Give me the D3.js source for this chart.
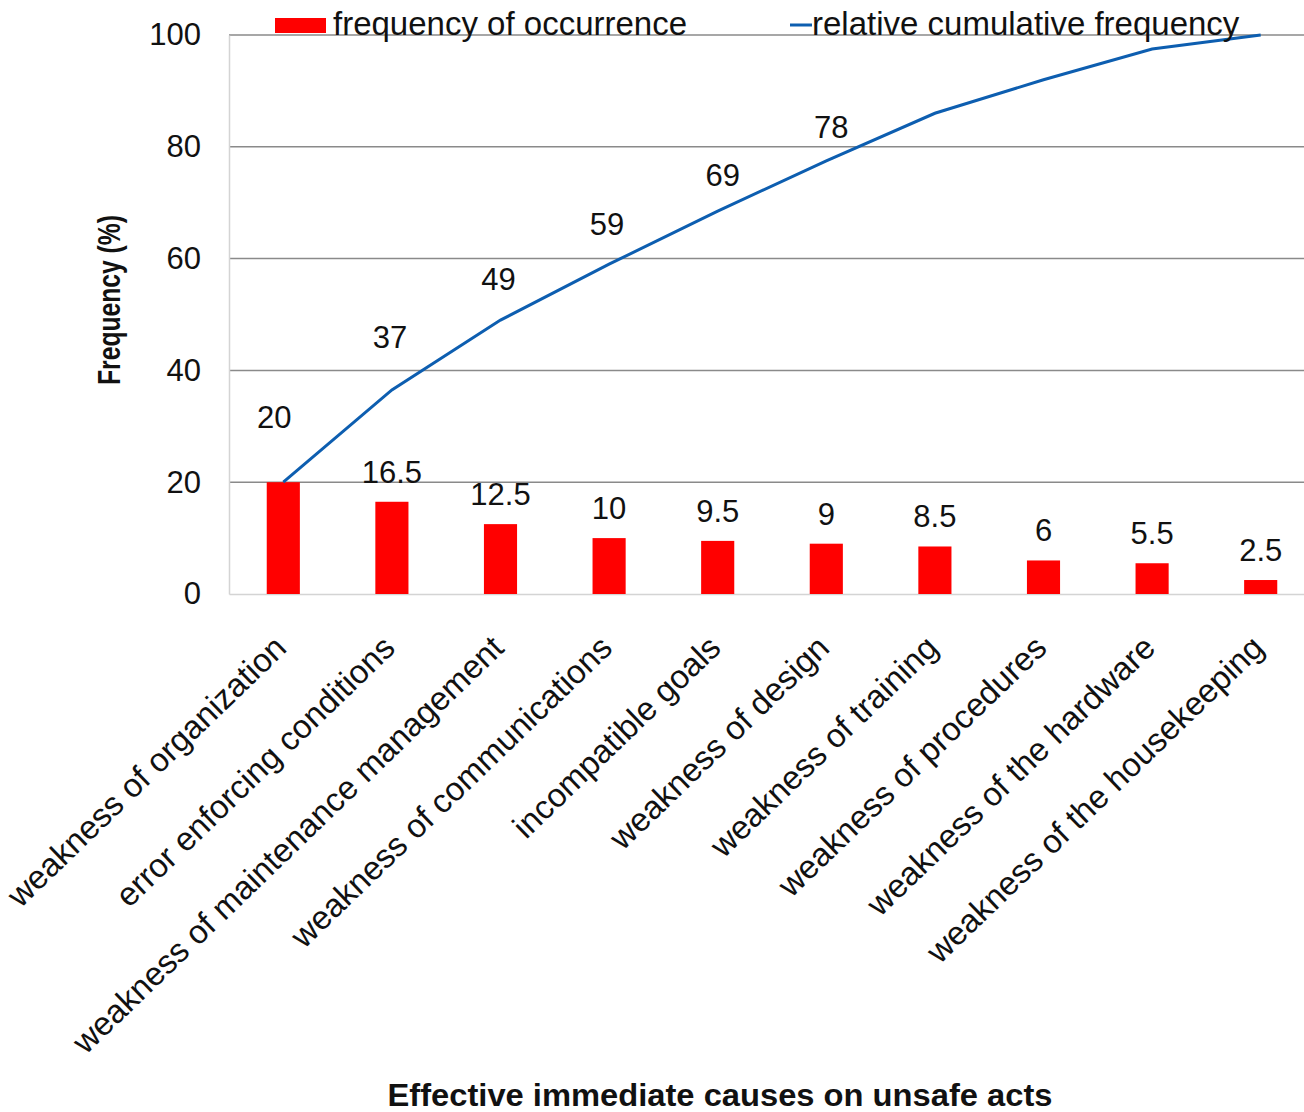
<!DOCTYPE html>
<html>
<head>
<meta charset="utf-8">
<script src="https://cdn.jsdelivr.net/npm/d3@7"></script>
<style>
  html, body { margin: 0; padding: 0; background: #fff; }
  svg { display: block; }
  text { font-family: "Liberation Sans", Arial, sans-serif; fill: #111; }
</style>
</head>
<body>
<svg id="chart" width="1304" height="1112"></svg>
<script>
// ---- data ----
const categories = [
  "weakness of organization",
  "error enforcing conditions",
  "weakness of maintenance management",
  "weakness of communications",
  "incompatible goals",
  "weakness of design",
  "weakness of training",
  "weakness of procedures",
  "weakness of the hardware",
  "weakness of the housekeeping"
];
const frequency = [20, 16.5, 12.5, 10, 9.5, 9, 8.5, 6, 5.5, 2.5];
const cumulative = [20, 36.5, 49, 59, 68.5, 77.5, 86, 92, 97.5, 100];
const cumulativeLabels = ["20", "37", "49", "59", "69", "78"];
const barLabels = ["", "16.5", "12.5", "10", "9.5", "9", "8.5", "6", "5.5", "2.5"];
const yTicks = [0, 20, 40, 60, 80, 100];
const seriesNames = ["frequency of occurrence", "relative cumulative frequency"];
const xTitle = "Effective immediate causes on unsafe acts";
const yTitle = "Frequency (%)";

// ---- layout / style ----
const plot = { left: 229, right: 1315, top: 35, bottom: 594 };
const RED = "#ff0000", BLUE = "#0d5eb0";
// manual nudges of cumulative labels (px) — styling, as in the original
const cumLabelNudge = [[-9, 54], [-2, 42], [-2, 30], [-2, 29], [5, 25], [5, 23]];

const svg = d3.select("#chart");

const x = d3.scaleBand()
  .domain(categories)
  .range([plot.left, plot.right])
  .paddingInner(0.695)
  .paddingOuter(0.3475);
const cx = d => x(d) + x.bandwidth() / 2;

const y = d3.scaleLinear().domain([0, 100]).range([plot.bottom, plot.top]);

// gridlines
svg.append("g")
  .selectAll("line")
  .data(yTicks.filter(t => t > 0))
  .join("line")
  .attr("x1", plot.left).attr("x2", plot.right)
  .attr("y1", d => y(d)).attr("y2", d => y(d))
  .attr("stroke", "#8a8a8a").attr("stroke-width", 1.5);

// y axis
const yAxis = svg.append("g")
  .attr("transform", `translate(${plot.left},0)`)
  .call(d3.axisLeft(y).tickValues(yTicks).tickSize(0).tickPadding(28));
yAxis.select(".domain").attr("stroke", "#d4d4d4").attr("stroke-width", 1.5);
yAxis.selectAll("text")
  .style("font-family", "Liberation Sans, Arial, sans-serif")
  .style("font-size", "31px").attr("fill", "#111");

// x axis line
const xAxis = svg.append("g")
  .attr("transform", `translate(0,${plot.bottom})`)
  .call(d3.axisBottom(x).tickSize(0).tickFormat(""));
xAxis.select(".domain").attr("stroke", "#d4d4d4").attr("stroke-width", 1.5);

// bars
svg.append("g")
  .selectAll("rect")
  .data(frequency)
  .join("rect")
  .attr("x", (d, i) => x(categories[i]))
  .attr("width", x.bandwidth())
  .attr("y", d => y(d))
  .attr("height", d => y(0) - y(d))
  .attr("fill", RED);

// bar labels
svg.append("g")
  .selectAll("text")
  .data(frequency)
  .join("text")
  .attr("x", (d, i) => cx(categories[i]))
  .attr("y", d => y(d) - 19)
  .attr("text-anchor", "middle")
  .style("font-size", "31px")
  .text((d, i) => barLabels[i]);

// cumulative line
const line = d3.line()
  .x((d, i) => cx(categories[i]))
  .y(d => y(d));
svg.append("path")
  .datum(cumulative)
  .attr("d", line)
  .attr("fill", "none")
  .attr("stroke", BLUE)
  .attr("stroke-width", 3);

// cumulative labels
svg.append("g")
  .selectAll("text")
  .data(cumulativeLabels)
  .join("text")
  .attr("x", (d, i) => cx(categories[i]) + cumLabelNudge[i][0])
  .attr("y", (d, i) => y(cumulative[i]) - cumLabelNudge[i][1])
  .attr("text-anchor", "middle")
  .style("font-size", "31px")
  .text(d => d);

// category labels (rotated)
svg.append("g")
  .selectAll("text")
  .data(categories)
  .join("text")
  .attr("transform", d => `translate(${cx(d) + 5},${650}) rotate(-44)`)
  .attr("text-anchor", "end")
  .style("font-size", "33px")
  .text(d => d);

// axis titles
svg.append("text")
  .attr("transform", `translate(120,300) rotate(-90)`)
  .attr("text-anchor", "middle")
  .attr("textLength", 170)
  .attr("lengthAdjust", "spacingAndGlyphs")
  .style("font-size", "31px")
  .style("font-weight", "bold")
  .text(yTitle);

svg.append("text")
  .attr("x", 720).attr("y", 1106)
  .attr("text-anchor", "middle")
  .attr("textLength", 665)
  .attr("lengthAdjust", "spacingAndGlyphs")
  .style("font-size", "31px")
  .style("font-weight", "bold")
  .text(xTitle);

// legend
const lg = svg.append("g");
lg.append("rect").attr("x", 275).attr("y", 18).attr("width", 51).attr("height", 15).attr("fill", RED);
lg.append("text").attr("x", 333).attr("y", 35).style("font-size", "33px").text(seriesNames[0]);
lg.append("line").attr("x1", 790).attr("x2", 812).attr("y1", 25).attr("y2", 25)
  .attr("stroke", BLUE).attr("stroke-width", 3);
lg.append("text").attr("x", 812).attr("y", 35).style("font-size", "33px").text(seriesNames[1]);
</script>
</body>
</html>
